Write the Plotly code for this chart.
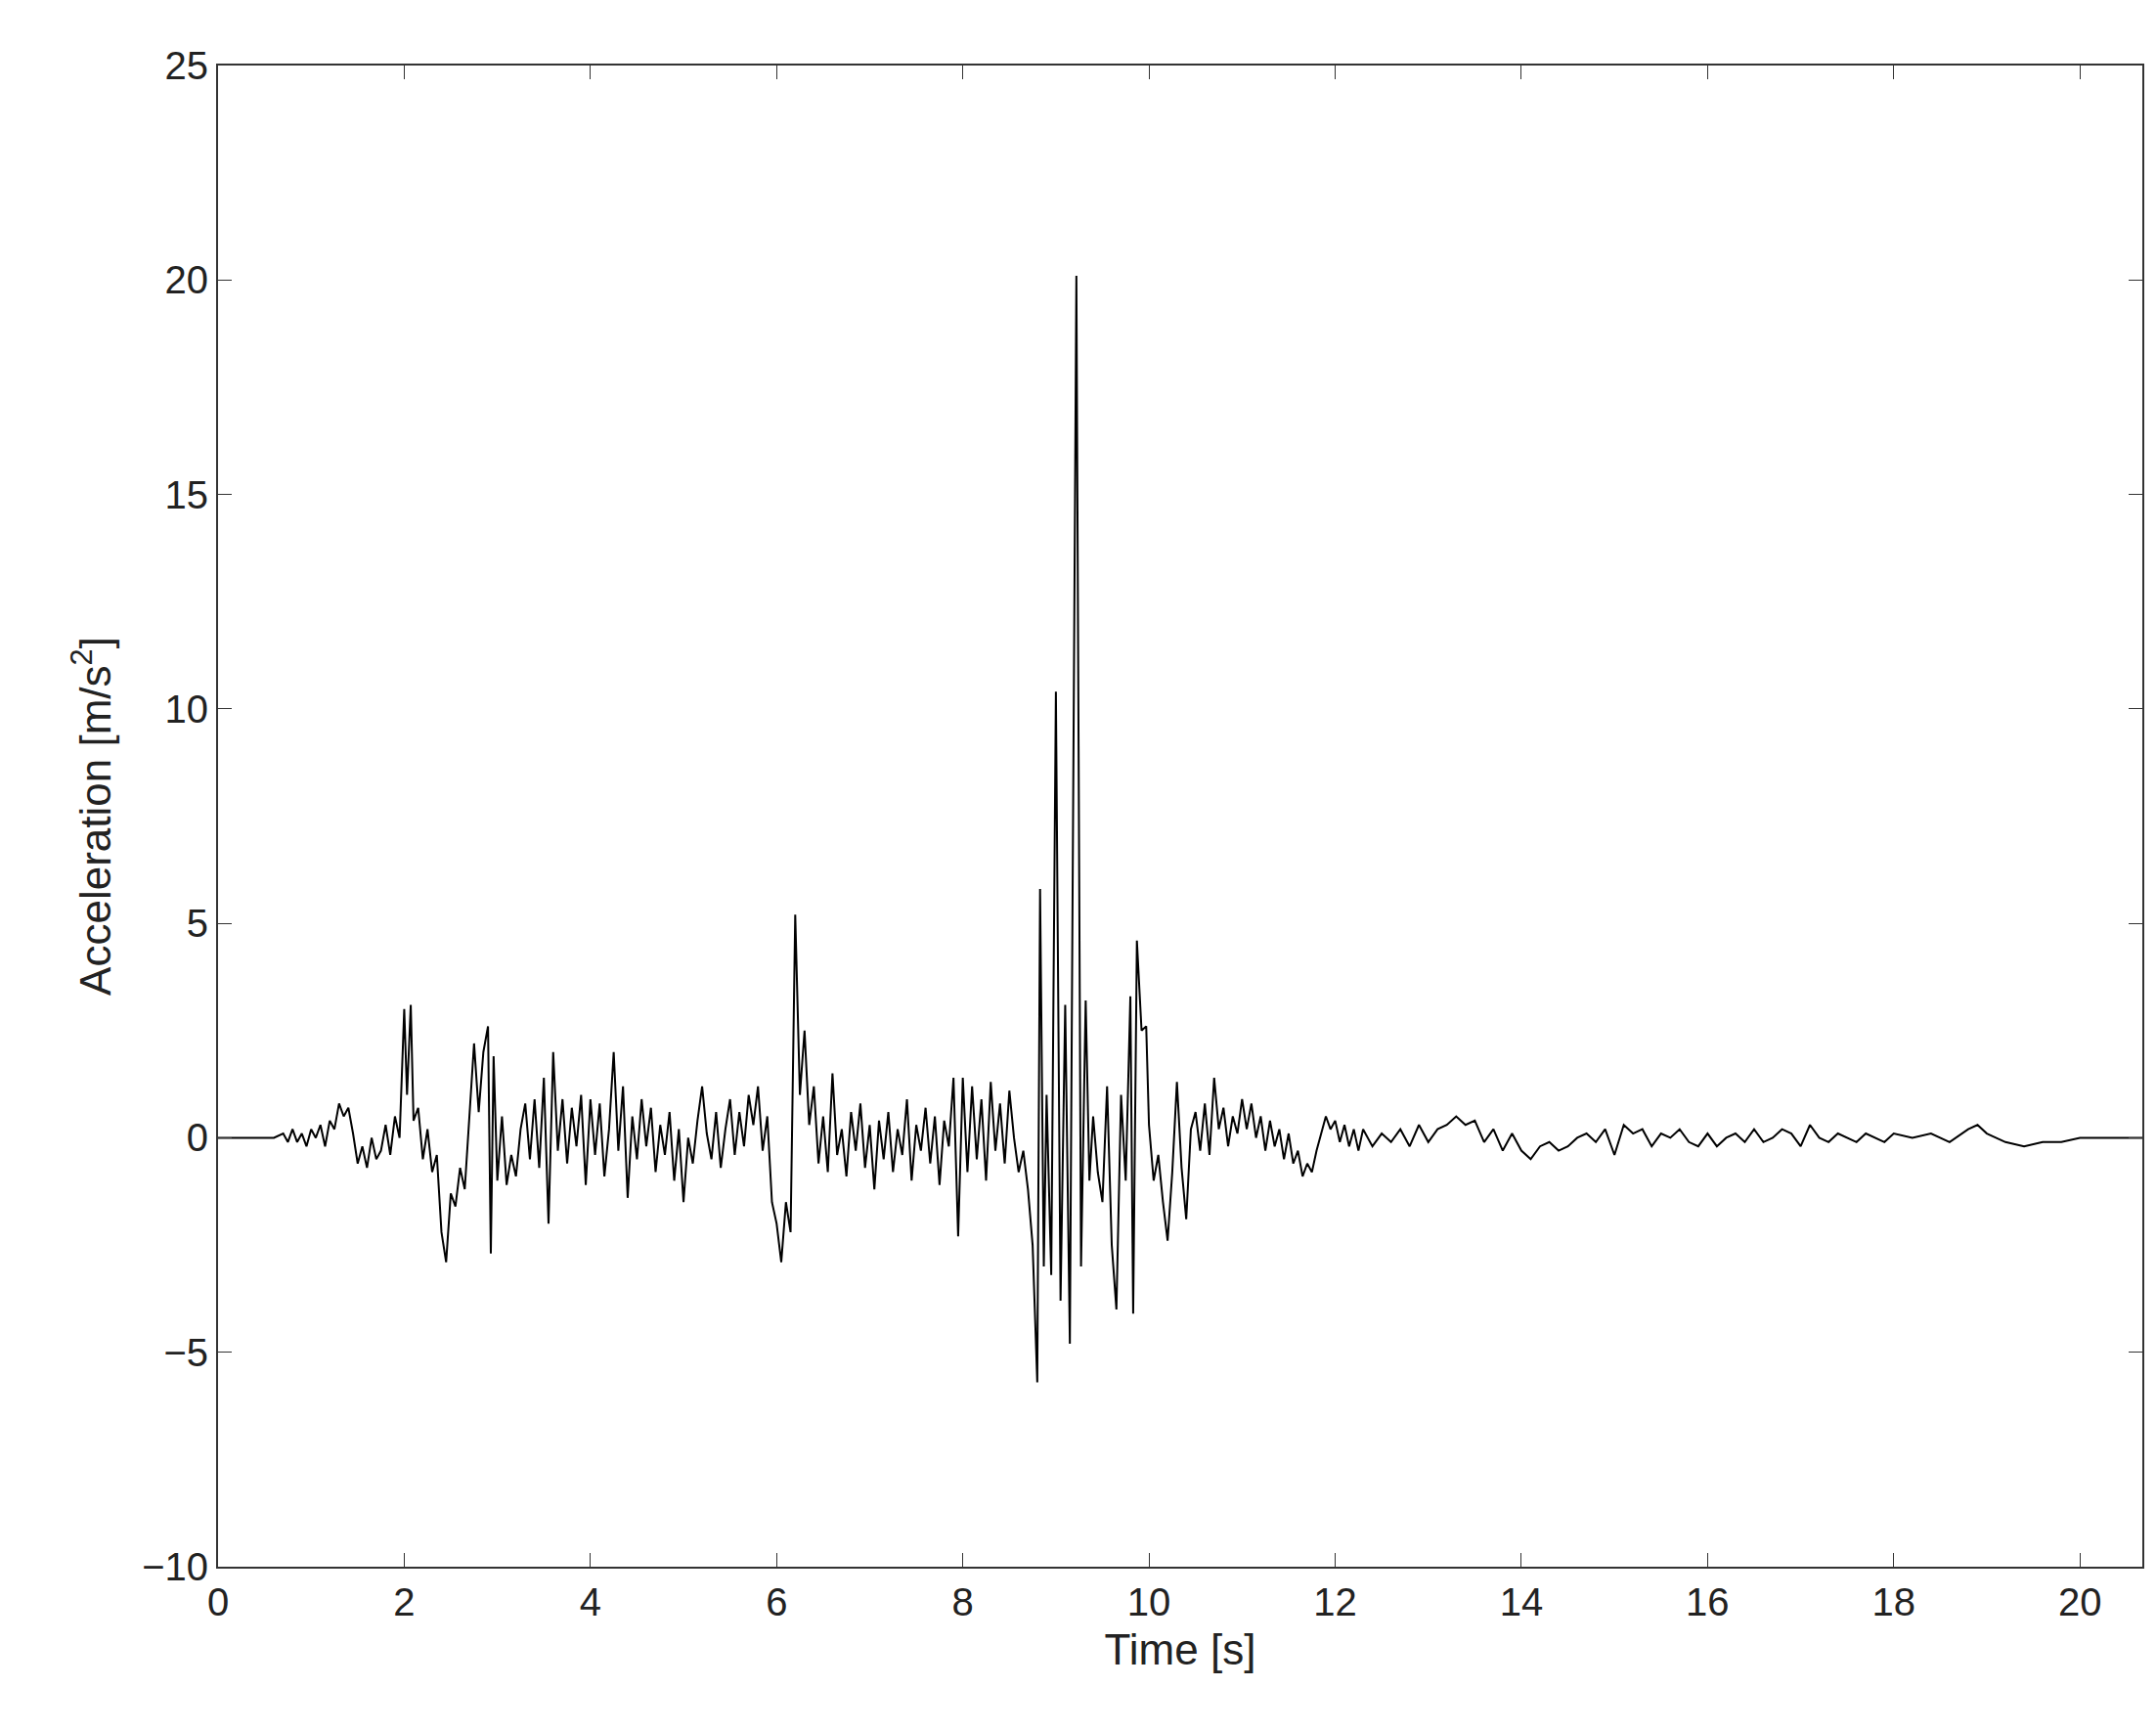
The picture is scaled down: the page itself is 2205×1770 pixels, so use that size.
import plotly.graph_objects as go

samples = [
(0.0,0.0),(0.3,0.0),(0.6,0.0),(0.7,0.1),(0.75,-0.1),(0.8,0.2),(0.85,-0.1),(0.9,0.1),(0.95,-0.2),(1.0,0.2),
(1.05,0.0),(1.1,0.3),(1.15,-0.2),(1.2,0.4),(1.25,0.2),(1.3,0.8),(1.35,0.5),(1.4,0.7),(1.45,0.1),(1.5,-0.6),
(1.55,-0.2),(1.6,-0.7),(1.65,0.0),(1.7,-0.5),(1.75,-0.3),(1.8,0.3),(1.85,-0.4),(1.9,0.5),(1.95,0.0),(2.0,3.0),
(2.03,1.0),(2.07,3.1),(2.1,0.4),(2.15,0.7),(2.2,-0.5),(2.25,0.2),(2.3,-0.8),(2.35,-0.4),(2.4,-2.2),(2.45,-2.9),
(2.5,-1.3),(2.55,-1.6),(2.6,-0.7),(2.65,-1.2),(2.7,0.4),(2.75,2.2),(2.8,0.6),(2.85,2.0),(2.9,2.6),(2.93,-2.7),
(2.96,1.9),(3.0,-1.0),(3.05,0.5),(3.1,-1.1),(3.15,-0.4),(3.2,-0.9),(3.25,0.2),(3.3,0.8),(3.35,-0.5),(3.4,0.9),
(3.45,-0.7),(3.5,1.4),(3.55,-2.0),(3.6,2.0),(3.65,-0.3),(3.7,0.9),(3.75,-0.6),(3.8,0.7),(3.85,-0.2),(3.9,1.0),
(3.95,-1.1),(4.0,0.9),(4.05,-0.4),(4.1,0.8),(4.15,-0.9),(4.2,0.2),(4.25,2.0),(4.3,-0.3),(4.35,1.2),(4.4,-1.4),
(4.45,0.5),(4.5,-0.5),(4.55,0.9),(4.6,-0.2),(4.65,0.7),(4.7,-0.8),(4.75,0.3),(4.8,-0.4),(4.85,0.6),(4.9,-1.0),
(4.95,0.2),(5.0,-1.5),(5.05,0.0),(5.1,-0.6),(5.15,0.4),(5.2,1.2),(5.25,0.1),(5.3,-0.5),(5.35,0.6),(5.4,-0.7),
(5.45,0.2),(5.5,0.9),(5.55,-0.4),(5.6,0.6),(5.65,-0.2),(5.7,1.0),(5.75,0.3),(5.8,1.2),(5.85,-0.3),(5.9,0.5),
(5.95,-1.5),(6.0,-2.0),(6.05,-2.9),(6.1,-1.5),(6.15,-2.2),(6.2,5.2),(6.25,1.0),(6.3,2.5),(6.35,0.3),(6.4,1.2),
(6.45,-0.6),(6.5,0.5),(6.55,-0.8),(6.6,1.5),(6.65,-0.4),(6.7,0.2),(6.75,-0.9),(6.8,0.6),(6.85,-0.3),(6.9,0.8),
(6.95,-0.7),(7.0,0.3),(7.05,-1.2),(7.1,0.4),(7.15,-0.5),(7.2,0.6),(7.25,-0.8),(7.3,0.2),(7.35,-0.4),(7.4,0.9),
(7.45,-1.0),(7.5,0.3),(7.55,-0.3),(7.6,0.7),(7.65,-0.6),(7.7,0.5),(7.75,-1.1),(7.8,0.4),(7.85,-0.2),(7.9,1.4),
(7.95,-2.3),(8.0,1.4),(8.05,-0.8),(8.1,1.2),(8.15,-0.5),(8.2,0.9),(8.25,-1.0),(8.3,1.3),(8.35,-0.3),(8.4,0.8),
(8.45,-0.6),(8.5,1.1),(8.55,0.0),(8.6,-0.8),(8.65,-0.3),(8.7,-1.2),(8.75,-2.5),(8.8,-5.7),(8.83,5.8),(8.87,-3.0),
(8.9,1.0),(8.95,-3.2),(9.0,10.4),(9.05,-3.8),(9.1,3.1),(9.15,-4.8),(9.22,20.1),(9.27,-3.0),(9.32,3.2),(9.36,-1.0),
(9.4,0.5),(9.45,-0.8),(9.5,-1.5),(9.55,1.2),(9.6,-2.5),(9.65,-4.0),(9.7,1.0),(9.75,-1.0),(9.8,3.3),(9.83,-4.1),
(9.87,4.6),(9.92,2.5),(9.97,2.6),(10.0,0.3),(10.05,-1.0),(10.1,-0.4),(10.15,-1.5),(10.2,-2.4),(10.25,-0.8),(10.3,1.3),
(10.35,-0.7),(10.4,-1.9),(10.45,0.2),(10.5,0.6),(10.55,-0.3),(10.6,0.8),(10.65,-0.4),(10.7,1.4),(10.75,0.2),(10.8,0.7),
(10.85,-0.2),(10.9,0.5),(10.95,0.1),(11.0,0.9),(11.05,0.2),(11.1,0.8),(11.15,0.0),(11.2,0.5),(11.25,-0.3),(11.3,0.4),
(11.35,-0.2),(11.4,0.2),(11.45,-0.5),(11.5,0.1),(11.55,-0.6),(11.6,-0.3),(11.65,-0.9),(11.7,-0.6),(11.75,-0.8),(11.8,-0.3),
(11.85,0.1),(11.9,0.5),(11.95,0.2),(12.0,0.4),(12.05,-0.1),(12.1,0.3),(12.15,-0.2),(12.2,0.2),(12.25,-0.3),(12.3,0.2),
(12.4,-0.2),(12.5,0.1),(12.6,-0.1),(12.7,0.2),(12.8,-0.2),(12.9,0.3),(13.0,-0.1),(13.1,0.2),(13.2,0.3),(13.3,0.5),
(13.4,0.3),(13.5,0.4),(13.6,-0.1),(13.7,0.2),(13.8,-0.3),(13.9,0.1),(14.0,-0.3),(14.1,-0.5),(14.2,-0.2),(14.3,-0.1),
(14.4,-0.3),(14.5,-0.2),(14.6,0.0),(14.7,0.1),(14.8,-0.1),(14.9,0.2),(15.0,-0.4),(15.1,0.3),(15.2,0.1),(15.3,0.2),
(15.4,-0.2),(15.5,0.1),(15.6,0.0),(15.7,0.2),(15.8,-0.1),(15.9,-0.2),(16.0,0.1),(16.1,-0.2),(16.2,0.0),(16.3,0.1),
(16.4,-0.1),(16.5,0.2),(16.6,-0.1),(16.7,0.0),(16.8,0.2),(16.9,0.1),(17.0,-0.2),(17.1,0.3),(17.2,0.0),(17.3,-0.1),
(17.4,0.1),(17.5,0.0),(17.6,-0.1),(17.7,0.1),(17.8,0.0),(17.9,-0.1),(18.0,0.1),(18.2,0.0),(18.4,0.1),(18.6,-0.1),
(18.8,0.2),(18.9,0.3),(19.0,0.1),(19.2,-0.1),(19.4,-0.2),(19.6,-0.1),(19.8,-0.1),(20.0,0.0),(20.3,0.0),(20.67,0.0),
]
time_s = [t for t, _ in samples]
accel = [a for _, a in samples]

fig = go.Figure(go.Scatter(x=time_s, y=accel, mode="lines",
                           line=dict(color="black", width=2)))
axis_common = dict(showline=True, linecolor="#333", linewidth=2, mirror="ticks",
                   ticks="inside", ticklen=14, tickcolor="#333", showgrid=False,
                   zeroline=False, tickfont=dict(size=40, color="#222"))
fig.update_xaxes(range=[0, 20.67], tickvals=list(range(0, 21, 2)),
                 title=dict(text="Time [s]", font=dict(size=44, color="#222"), standoff=12),
                 **axis_common)
fig.update_yaxes(range=[-10, 25], tickvals=list(range(-10, 26, 5)),
                 ticktext=["\u221210", "\u22125", "0", "5", "10", "15", "20", "25"],
                 title=dict(text="Acceleration [m/s<sup>2</sup>]", font=dict(size=44, color="#222"), standoff=18),
                 **axis_common)
fig.update_layout(width=2205, height=1770, plot_bgcolor="white", paper_bgcolor="white",
                  font=dict(family="Liberation Sans, Arial"), showlegend=False,
                  margin=dict(l=215, r=22, t=59, b=176))
fig.write_html("out.html")
